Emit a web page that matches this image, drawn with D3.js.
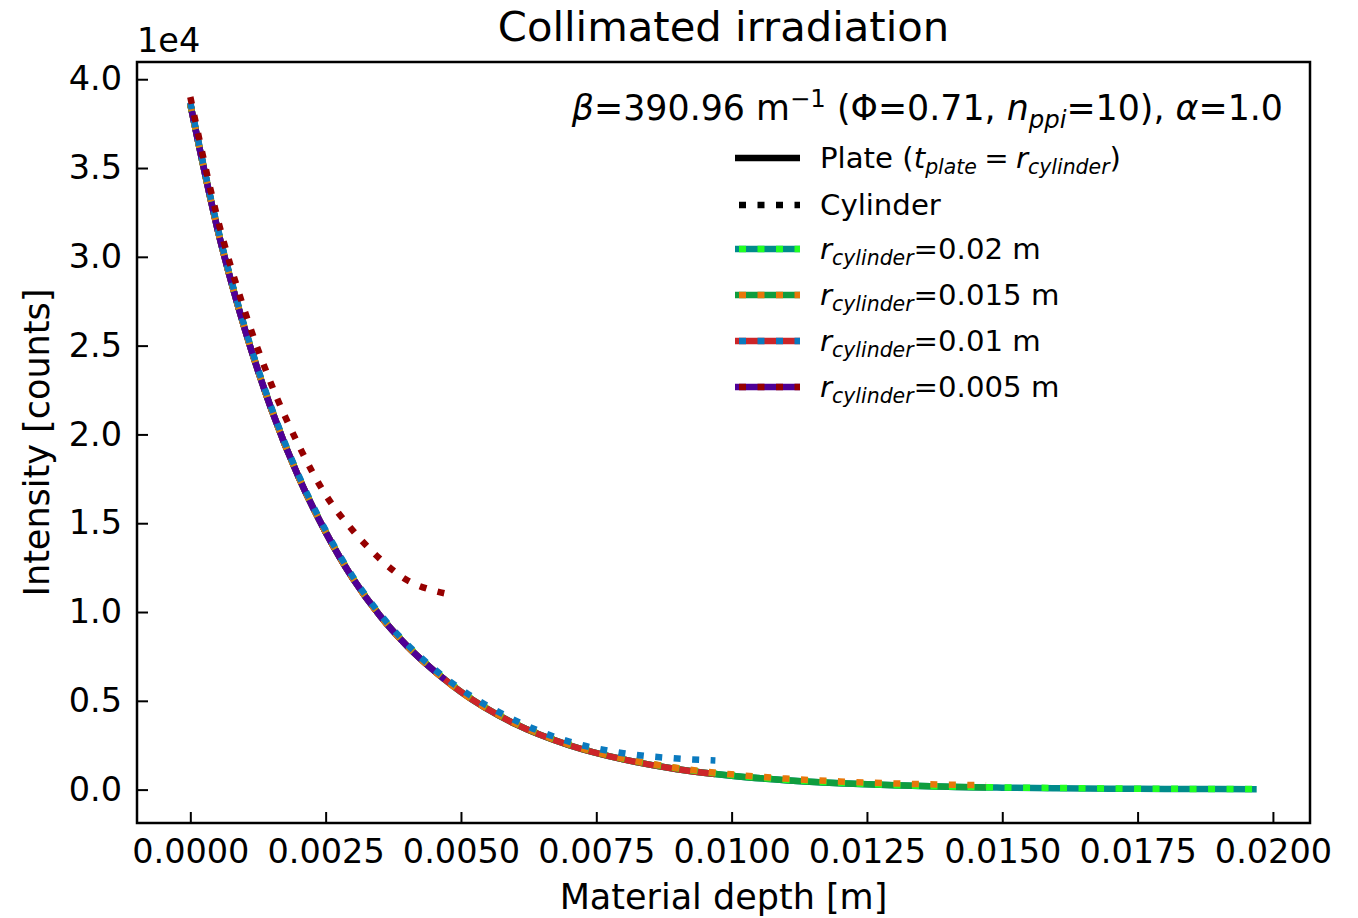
<!DOCTYPE html>
<html>
<head>
<meta charset="utf-8">
<script src="https://cdn.jsdelivr.net/npm/d3@7"></script>
<style>
  body { margin: 0; background: #fff; }
  text { font-family: "DejaVu Sans", sans-serif; fill: #000; }
</style>
</head>
<body>
<div id="chart"></div>
<script>
// Collimated irradiation - plate vs cylinder intensity profiles

// Plate profile (same for every thickness, cut at t_plate)
const plateDepth = [0, 0.0005, 0.001, 0.0015, 0.002, 0.0025, 0.003, 0.0035, 0.004, 0.0045, 0.0047,
    0.005, 0.006, 0.007, 0.008, 0.009, 0.0097, 0.010, 0.011, 0.012, 0.013, 0.014, 0.0147,
    0.015, 0.016, 0.017, 0.018, 0.019, 0.0197];
const plateIntensity = [38600, 31600, 26000, 21400, 17600, 14500, 11900, 9800, 8100, 6700, 6200,
    5500, 3700, 2500, 1700, 1150, 880, 780, 530, 360, 240, 160, 120,
    110, 80, 50, 40, 30, 20];

const radii = [0.02, 0.015, 0.01, 0.005];
const radiusLabels = ['0.02', '0.015', '0.01', '0.005'];
const plateEnd = [0.0197, 0.0147, 0.0097, 0.0047];

// Cylinder profiles, one per radius
const cylDepth020 = [0, 0.0005, 0.001, 0.0015, 0.002, 0.0025, 0.003, 0.0035, 0.004, 0.0045,
    0.005, 0.006, 0.007, 0.008, 0.009, 0.010, 0.011, 0.012, 0.013, 0.014, 0.015,
    0.016, 0.017, 0.018, 0.019, 0.0197];
const cylIntensity020 = [38600, 31650, 26050, 21450, 17650, 14550, 11950, 9850, 8150, 6750,
    5550, 3750, 2550, 1750, 1200, 820, 560, 390, 260, 180, 125,
    90, 65, 45, 35, 28];

const cylDepth015 = [0, 0.0005, 0.001, 0.0015, 0.002, 0.0025, 0.003, 0.0035, 0.004, 0.0045,
    0.005, 0.006, 0.007, 0.008, 0.009, 0.010, 0.011, 0.012, 0.013, 0.014, 0.0147];
const cylIntensity015 = [38600, 31600, 26000, 21400, 17600, 14500, 11900, 9800, 8100, 6700,
    5500, 3750, 2550, 1760, 1220, 860, 620, 460, 350, 280, 250];

const cylDepth010 = [0, 0.0005, 0.001, 0.0015, 0.002, 0.0025, 0.003, 0.0035, 0.004, 0.0045,
    0.005, 0.006, 0.007, 0.008, 0.009, 0.0097];
const cylIntensity010 = [38700, 31700, 26100, 21500, 17700, 14600, 12000, 9900, 8200, 6800,
    5650, 3900, 2700, 2050, 1750, 1640];

const cylDepth005 = [0, 0.0005, 0.001, 0.0015, 0.002, 0.0025, 0.003, 0.0035, 0.004, 0.0045, 0.0047];
const cylIntensity005 = [39000, 32200, 27000, 22800, 19400, 16600, 14600, 13000, 11800, 11200, 11050];

const xTicks = [0, 0.0025, 0.005, 0.0075, 0.01, 0.0125, 0.015, 0.0175, 0.02];
const yTicks = [0, 5000, 10000, 15000, 20000, 25000, 30000, 35000, 40000];

const plateColors = ['#008b8b', '#0f9d3e', '#cc2529', '#4f0096'];
const cylColors = ['#22ff22', '#e8770a', '#0a7abf', '#960000'];

const cylDepths = [cylDepth020, cylDepth015, cylDepth010, cylDepth005];
const cylIntensities = [cylIntensity020, cylIntensity015, cylIntensity010, cylIntensity005];

const W = 1358, H = 918;
const margin = { left: 137, right: 48, top: 62, bottom: 95 };
const lw = 6.5;
const dots = '7,11.5';

const svg = d3.select('#chart').append('svg')
    .attr('width', W)
    .attr('height', H);

const x = d3.scaleLinear()
    .domain([-0.000985, 0.020685])
    .range([margin.left, W - margin.right]);
const y = d3.scaleLinear()
    .domain([-1880, 40970])
    .range([H - margin.bottom, margin.top]);

const line = d3.line()
    .x(d => x(d[0]))
    .y(d => y(d[1]))
    .curve(d3.curveMonotoneX);

const plotG = svg.append('g');

// Plates first
radii.forEach((r, i) => {
    const pts = plateDepth.map((d, k) => [d, plateIntensity[k]]).filter(p => p[0] <= plateEnd[i] + 1e-9);
    plotG.append('path')
        .datum(pts)
        .attr('d', line)
        .attr('fill', 'none')
        .attr('stroke', plateColors[i])
        .attr('stroke-width', lw);
});

// Then cylinders (dotted)
radii.forEach((r, i) => {
    const pts = cylDepths[i].map((d, k) => [d, cylIntensities[i][k]]);
    plotG.append('path')
        .datum(pts)
        .attr('d', line)
        .attr('fill', 'none')
        .attr('stroke', cylColors[i])
        .attr('stroke-width', lw)
        .attr('stroke-dasharray', dots);
});

// Axes, ticks pointing inwards
const xAxis = svg.append('g')
    .attr('transform', `translate(0,${H - margin.bottom})`)
    .call(d3.axisBottom(x).tickValues(xTicks).tickSize(-11).tickSizeOuter(0)
        .tickPadding(16).tickFormat(d => d.toFixed(4)));
const yAxis = svg.append('g')
    .attr('transform', `translate(${margin.left},0)`)
    .call(d3.axisLeft(y).tickValues(yTicks).tickSize(-11).tickSizeOuter(0)
        .tickPadding(15).tickFormat(d => (d / 1e4).toFixed(1)));

[xAxis, yAxis].forEach(a => {
    a.select('.domain').remove();
    a.selectAll('line').attr('stroke', '#000').attr('stroke-width', 2);
    a.selectAll('text').attr('font-size', 33.5).attr('font-family', 'DejaVu Sans').attr('fill', '#000');
});

// Frame
svg.append('rect')
    .attr('x', margin.left)
    .attr('y', margin.top)
    .attr('width', W - margin.left - margin.right)
    .attr('height', H - margin.top - margin.bottom)
    .attr('fill', 'none')
    .attr('stroke', '#000')
    .attr('stroke-width', 2.5);

// Rich text helper: segments with optional italic / sub / sup
function richText(g, xPos, yPos, size, anchor, parts) {
    const t = g.append('text')
        .attr('x', xPos)
        .attr('y', yPos)
        .attr('font-size', size)
        .attr('text-anchor', anchor);
    let shift = 0;
    parts.forEach(p => {
        const target = p.sub ? size * 0.22 : p.sup ? -size * 0.38 : 0;
        const s = t.append('tspan')
            .attr('dy', target - shift)
            .text(p.t);
        shift = target;
        if (p.it) s.attr('font-style', 'italic');
        if (p.sub || p.sup) s.attr('font-size', size * 0.7);
    });
    return t;
}

// Title, labels, offset text
svg.append('text')
    .attr('x', (margin.left + W - margin.right) / 2)
    .attr('y', 41)
    .attr('text-anchor', 'middle')
    .attr('font-size', 41.7)
    .text('Collimated irradiation');

svg.append('text')
    .attr('x', (margin.left + W - margin.right) / 2)
    .attr('y', 909)
    .attr('text-anchor', 'middle')
    .attr('font-size', 35)
    .text('Material depth [m]');

svg.append('text')
    .attr('transform', `translate(49,${(margin.top + H - margin.bottom) / 2}) rotate(-90)`)
    .attr('text-anchor', 'middle')
    .attr('font-size', 35)
    .text('Intensity [counts]');

svg.append('text')
    .attr('x', 137)
    .attr('y', 52)
    .attr('font-size', 33.5)
    .text('1e4');

// Parameter annotation
richText(svg, 1283, 120, 34.8, 'end', [
    { t: 'β', it: true },
    { t: '=390.96 m' },
    { t: '−1', sup: true },
    { t: ' (Φ=0.71, ' },
    { t: 'n', it: true },
    { t: 'ppi', it: true, sub: true },
    { t: '=10), ' },
    { t: 'α', it: true },
    { t: '=1.0' }
]);

// Legend
const legend = svg.append('g');
const lx0 = 735, lx1 = 800, tx = 820;
const rowY = [158, 205, 249, 295, 341, 387];
const legFs = 29.2;

legend.append('line')
    .attr('x1', lx0).attr('x2', lx1).attr('y1', rowY[0]).attr('y2', rowY[0])
    .attr('stroke', '#000').attr('stroke-width', lw);
richText(legend, tx, rowY[0] + 10, legFs, 'start', [
    { t: 'Plate (' },
    { t: 't', it: true },
    { t: 'plate', it: true, sub: true },
    { t: '\u2005=\u2005' },
    { t: 'r', it: true },
    { t: 'cylinder', it: true, sub: true },
    { t: ')' }
]);

legend.append('line')
    .attr('x1', lx0).attr('x2', lx1).attr('y1', rowY[1]).attr('y2', rowY[1])
    .attr('stroke', '#000').attr('stroke-width', lw)
    .attr('stroke-dasharray', dots).attr('stroke-dashoffset', -4);
richText(legend, tx, rowY[1] + 10, legFs, 'start', [{ t: 'Cylinder' }]);

radii.forEach((r, i) => {
    const yy = rowY[i + 2];
    legend.append('line')
        .attr('x1', lx0).attr('x2', lx1).attr('y1', yy).attr('y2', yy)
        .attr('stroke', plateColors[i]).attr('stroke-width', lw);
    legend.append('line')
        .attr('x1', lx0).attr('x2', lx1).attr('y1', yy).attr('y2', yy)
        .attr('stroke', cylColors[i]).attr('stroke-width', lw)
        .attr('stroke-dasharray', dots).attr('stroke-dashoffset', -4);
    richText(legend, tx, yy + 10, legFs, 'start', [
        { t: 'r', it: true },
        { t: 'cylinder', it: true, sub: true },
        { t: '=' + radiusLabels[i] + ' m' }
    ]);
});
</script>
</body>
</html>
